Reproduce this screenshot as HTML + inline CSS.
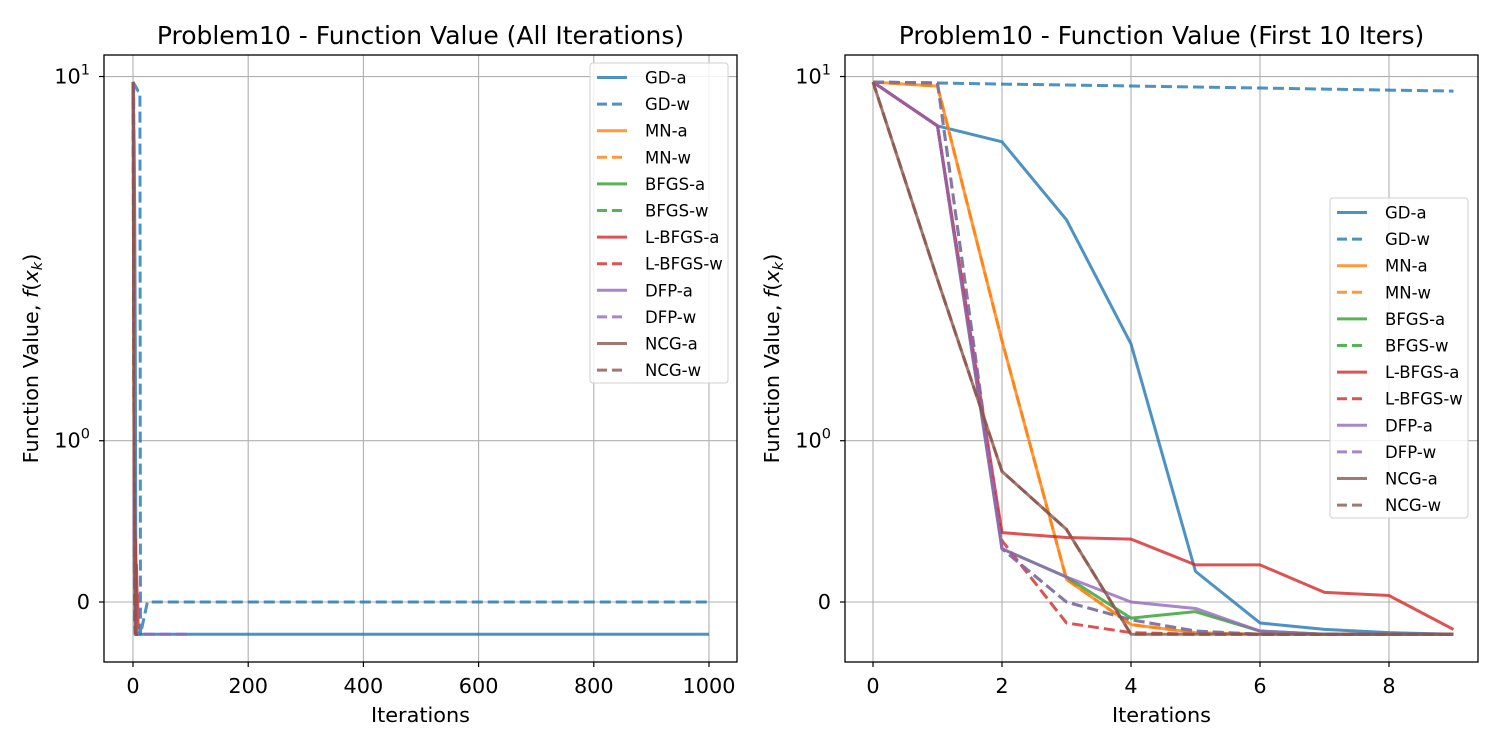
<!DOCTYPE html>
<html><head><meta charset="utf-8">
<style>
body{margin:0;background:#fff;}
svg{display:block;font-family:"DejaVu Sans","Liberation Sans",sans-serif;}
</style></head>
<body>
<svg id="chart" width="1500" height="750" viewBox="0 0 1500 750" xmlns="http://www.w3.org/2000/svg"></svg>
<script>
const seriesNames = ["GD-a","GD-w","MN-a","MN-w","BFGS-a","BFGS-w","L-BFGS-a","L-BFGS-w","DFP-a","DFP-w","NCG-a","NCG-w"];
const iters = [0,1,2,3,4,5,6,7,8,9];
const gdA = [9.57,6.76,5.96,3.21,1.60,0.19,-0.13,-0.17,-0.19,-0.2];
const gdW = [9.57,9.5,9.42,9.35,9.28,9.2,9.13,9.05,8.98,8.91];
const mnA = [9.57,9.27,1.62,0.14,-0.14,-0.19,-0.2,-0.2,-0.2,-0.2];
const mnW = [9.57,9.27,1.62,0.14,-0.14,-0.19,-0.2,-0.2,-0.2,-0.2];
const bfgsA = [9.57,6.76,0.33,0.155,-0.1,-0.06,-0.18,-0.2,-0.2,-0.2];
const bfgsW = [9.57,9.5,0.33,0.0,-0.11,-0.18,-0.2,-0.2,-0.2,-0.2];
const lbfgsA = [9.57,6.76,0.43,0.40,0.39,0.23,0.23,0.06,0.04,-0.17];
const lbfgsW = [9.57,6.76,0.38,-0.13,-0.19,-0.2,-0.2,-0.2,-0.2,-0.2];
const dfpA = [9.57,6.76,0.33,0.155,0.0,-0.04,-0.18,-0.2,-0.2,-0.2];
const dfpW = [9.57,9.5,0.33,0.0,-0.11,-0.18,-0.2,-0.2,-0.2,-0.2];
const ncgA = [9.57,2.0,0.81,0.45,-0.2,-0.2,-0.2,-0.2,-0.2,-0.2];
const ncgW = [9.57,2.0,0.81,0.45,-0.2,-0.2,-0.2,-0.2,-0.2,-0.2];
// tails for the full-iteration plot: [iteration, value]
const gdATail = [[1000,-0.2]];
const gdWTail = [[12,8.85],[13,-0.2],[25,0],[1000,0]];
const dfpWTail = [[100,-0.2]];
const leftXTicks = [0,200,400,600,800,1000];
const rightXTicks = [0,2,4,6,8];

const colors = ["#1f77b4","#1f77b4","#ff7f0e","#ff7f0e","#2ca02c","#2ca02c","#d62728","#d62728","#9467bd","#9467bd","#8c564b","#8c564b"];
const allData = [gdA,gdW,mnA,mnW,bfgsA,bfgsW,lbfgsA,lbfgsW,dfpA,dfpW,ncgA,ncgW];
const tails = {0:gdATail,1:gdWTail,9:dfpWTail};

const NS="http://www.w3.org/2000/svg";
const svg=document.getElementById('chart');
function mk(tag,attrs,parent){const e=document.createElementNS(NS,tag);for(const k in attrs)e.setAttribute(k,attrs[k]);(parent||svg).appendChild(e);return e;}

// symlog, linthresh=2
function symT(v){const t=2,ls=1/(1-0.1);const a=Math.abs(v);let r=a<=t?a/t*ls:ls+Math.log10(a/t);return v<0?-r:r;}
const Y0=602,PXU=290.3;
function yS(v){return Y0-symT(v)*PXU;}

function panel(opts){
  const g=mk('g',{});
  
  
  const {L,R,T,B}=opts;
  const xS=v=>opts.x0+(v-opts.xmin)*opts.k;
  opts.xticks.forEach(t=>{
    const l=mk('line',{x1:xS(t),x2:xS(t),y1:T,y2:B,stroke:'#b0b0b0','stroke-width':1.1},g);
    
  });
  [0,1,10].forEach(v=>{
    const l=mk('line',{x1:L,x2:R,y1:yS(v),y2:yS(v),stroke:'#b0b0b0','stroke-width':1.1},g);
    
  });
  const clip='clip'+opts.id;
  const cp=mk('clipPath',{id:clip},g);mk('rect',{x:L,y:T,width:R-L,height:B-T},cp);
  allData.forEach((d,i)=>{
    let pts=iters.map((it,j)=>[it,d[j]]);
    if(opts.tails&&tails[i])pts=pts.concat(tails[i]);
    const p=mk('polyline',{points:pts.map(q=>xS(q[0]).toFixed(2)+','+yS(q[1]).toFixed(2)).join(' '),fill:'none',stroke:colors[i],'stroke-opacity':0.8,'stroke-width':3,'stroke-linejoin':'round','clip-path':'url(#'+clip+')'},g);
    if(i%2===1)p.setAttribute('stroke-dasharray','11,5');
    
    
  });
  const f=mk('rect',{x:L,y:T,width:R-L,height:B-T,fill:'none',stroke:'#000','stroke-width':1.3},g);
  
  opts.xticks.forEach(t=>{
    mk('line',{x1:xS(t),x2:xS(t),y1:B,y2:B+5,stroke:'#000','stroke-width':1.2},g);
    const tx=mk('text',{x:xS(t),y:B+31,'text-anchor':'middle','font-size':20.8},g);tx.textContent=t;
    
  });
  [[10,'10','1'],[1,'10','0'],[0,'0','']].forEach(([v,b,e])=>{
    mk('line',{x1:L-5,x2:L,y1:yS(v),y2:yS(v),stroke:'#000','stroke-width':1.2},g);
    const tx=mk('text',{x:L-14,y:yS(v)+7,'text-anchor':'end','font-size':20.8},g);
    if(e){tx.textContent=b;const s=mk('tspan',{'font-size':14.5,dy:-9},tx);s.textContent=e;}else tx.textContent=b;
    
  });
  const ti=mk('text',{x:(L+R)/2,y:44,'text-anchor':'middle','font-size':25},g);ti.textContent=opts.title;
  
  const xl=mk('text',{x:(L+R)/2,y:722,'text-anchor':'middle','font-size':20.8},g);xl.textContent='Iterations';
  
  const yl=mk('text',{x:0,y:0,'text-anchor':'middle','font-size':20.8,transform:'translate('+(L-66)+','+((T+B)/2)+') rotate(-90)'},g);
  yl.textContent='Function Value, ';
  const it1=mk('tspan',{'font-style':'italic'},yl);it1.textContent='f';
  const t2=mk('tspan',{},yl);t2.textContent='(';
  const t3=mk('tspan',{'font-style':'italic'},yl);t3.textContent='x';
  const t4=mk('tspan',{'font-style':'italic','font-size':14.5,dy:4},yl);t4.textContent='k';
  const t5=mk('tspan',{dy:-4},yl);t5.textContent=')';
  
  const lg=mk('g',{},g);
  mk('rect',{x:opts.lx,y:opts.ly,width:138,height:320,rx:3,fill:'#fff','fill-opacity':0.85,stroke:'#d0d0d0','stroke-width':1},lg);
  seriesNames.forEach((n,i)=>{
    const yy=opts.ly+14.5+i*26.6;
    const ln=mk('line',{x1:opts.lx+7,x2:opts.lx+37,y1:yy,y2:yy,stroke:colors[i],'stroke-opacity':0.8,'stroke-width':3},lg);
    if(i%2===1)ln.setAttribute('stroke-dasharray','10,5');
    const tx=mk('text',{x:opts.lx+55,y:yy+6,'font-size':16.5},lg);tx.textContent=n;
    
  });
}
panel({id:'L',name:'all-iterations-panel',L:104,R:737,T:55,B:662,x0:133,xmin:0,k:0.576,xticks:leftXTicks,tails:true,title:'Problem10 - Function Value (All Iterations)',lx:590,ly:63});
panel({id:'R',name:'first-10-panel',L:845,R:1478,T:55,B:662,x0:873,xmin:0,k:64.5,xticks:rightXTicks,tails:false,title:'Problem10 - Function Value (First 10 Iters)',lx:1330,ly:198});
</script>
</body></html>
